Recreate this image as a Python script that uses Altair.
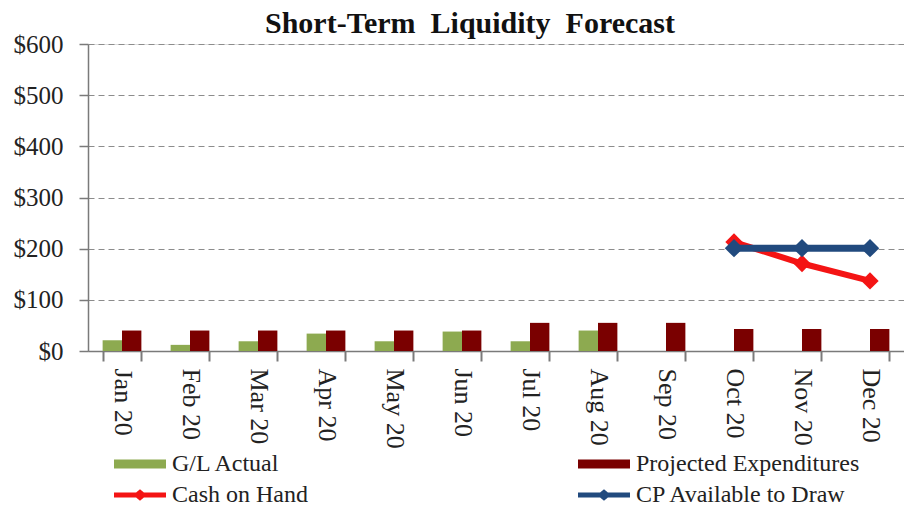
import altair as alt
import pandas as pd

months = ["Jan 20", "Feb 20", "Mar 20", "Apr 20", "May 20", "Jun 20",
          "Jul 20", "Aug 20", "Sep 20", "Oct 20", "Nov 20", "Dec 20"]
gl_actual = [21, 12, 19, 34, 19, 38, 19, 40, None, None, None, None]
projected = [40, 40, 40, 40, 40, 40, 55, 55, 55, 43, 43, 43]
cash_on_hand = [None, None, None, None, None, None, None, None, None, 213, 171, 137]
cp_available = [None, None, None, None, None, None, None, None, None, 201, 201, 201]

series_names = ["G/L Actual", "Projected Expenditures", "Cash on Hand", "CP Available to Draw"]
series_colors = ["#8DAA50", "#7A0000", "#F41414", "#214A7E"]
RECT = "M-1,-0.35H3V0.35H-1Z"
LINEDIA = "M-1,-0.19H0.7L1,-0.45L1.3,-0.19H3V0.19H1.3L1,0.45L0.7,0.19H-1Z"
series_shapes = [RECT, RECT, LINEDIA, LINEDIA]

rows = []
for name, vals in zip(series_names, [gl_actual, projected, cash_on_hand, cp_available]):
    for m, v in zip(months, vals):
        if v is not None:
            rows.append({"month": m, "series": name, "value": v})
df = pd.DataFrame(rows)

SERIF = "Liberation Serif"
AXIS_GRAY = "#7a7a7a"

x_axis = alt.Axis(labelAngle=90, labelAlign="left", labelBaseline="middle",
                  labelFont=SERIF, labelFontSize=26, labelColor="#222222",
                  labelPadding=7, ticks=True, tickBand="extent", tickSize=10,
                  tickColor=AXIS_GRAY, tickWidth=2, tickOpacity=1,
                  domainColor=AXIS_GRAY, domainWidth=1.5, grid=False)
x_scale = alt.Scale(domain=months, paddingInner=0.43, paddingOuter=0.215)
x_enc = alt.X("month:N", sort=months, title=None, scale=x_scale, axis=x_axis)

y_axis = alt.Axis(values=[0, 100, 200, 300, 400, 500, 600],
                  labelExpr="'$' + datum.value",
                  labelFont=SERIF, labelFontSize=25, labelColor="#222222",
                  labelPadding=16, ticks=True, tickSize=9, tickColor=AXIS_GRAY,
                  tickWidth=1.5, tickOpacity=1, domainColor=AXIS_GRAY, domainWidth=1.5,
                  grid=True, gridColor="#8c8c8c", gridDash=[6, 4], gridWidth=1)
y_enc = alt.Y("value:Q", title=None, scale=alt.Scale(domain=[0, 600], nice=False), axis=y_axis)

color_scale = alt.Scale(domain=series_names, range=series_colors)
legend_spec = alt.Legend(title=None, orient="none", legendX=26, legendY=407,
                         direction="horizontal",
                         columns=2, columnPadding=270, rowPadding=6,
                         symbolSize=676, symbolStrokeWidth=0,
                         labelFont=SERIF, labelFontSize=24, labelColor="#222222",
                         labelOffset=32, labelLimit=400, padding=0,
                         symbolOpacity=1)

base = alt.Chart(df)

bars = base.mark_bar().encode(
    x=x_enc,
    y=y_enc,
    xOffset=alt.XOffset("series:N", scale=alt.Scale(domain=series_names[:2], paddingInner=0, paddingOuter=0)),
    color=alt.Color("series:N", scale=color_scale, legend=legend_spec),
).transform_filter(alt.FieldOneOfPredicate(field="series", oneOf=series_names[:2]))

red_line = base.mark_line(color=series_colors[2], strokeWidth=6).encode(
    x=x_enc, y=y_enc
).transform_filter(alt.datum.series == "Cash on Hand")
red_pts = base.mark_point(shape="diamond", filled=True, size=300, opacity=1,
                          color=series_colors[2]).encode(
    x=x_enc, y=y_enc
).transform_filter(alt.datum.series == "Cash on Hand")

blue_line = base.mark_line(color=series_colors[3], strokeWidth=7).encode(
    x=x_enc, y=y_enc
).transform_filter(alt.datum.series == "CP Available to Draw")
blue_pts = base.mark_point(shape="diamond", filled=True, size=340, opacity=1,
                           color=series_colors[3]).encode(
    x=x_enc, y=y_enc
).transform_filter(alt.datum.series == "CP Available to Draw")

legend_layer = base.mark_point(filled=True, opacity=1).encode(
    x=x_enc,
    y=y_enc,
    color=alt.Color("series:N", scale=color_scale, legend=legend_spec),
    shape=alt.Shape("series:N", scale=alt.Scale(domain=series_names, range=series_shapes),
                    legend=legend_spec),
).transform_filter(alt.datum.value < -1)

chart = alt.layer(bars, red_line, red_pts, blue_line, blue_pts, legend_layer).properties(
    width=816,
    height=307,
    padding={"left": 80, "top": 36, "right": 0, "bottom": 156},
    autosize=alt.AutoSizeParams(type="none"),
    title=alt.TitleParams("Short-Term\u00a0\u00a0Liquidity\u00a0\u00a0Forecast",
                          font=SERIF, fontSize=30, fontWeight="bold", color="#111111",
                          anchor="middle", dx=-26, offset=0, dy=31, baseline="alphabetic"),
).configure_view(stroke=None).configure_axisX(
    ticks=True, tickBand="extent", tickSize=10, tickColor=AXIS_GRAY
).configure(background="white")

chart.save("out.html", embed_options={"renderer": "svg", "actions": False})
